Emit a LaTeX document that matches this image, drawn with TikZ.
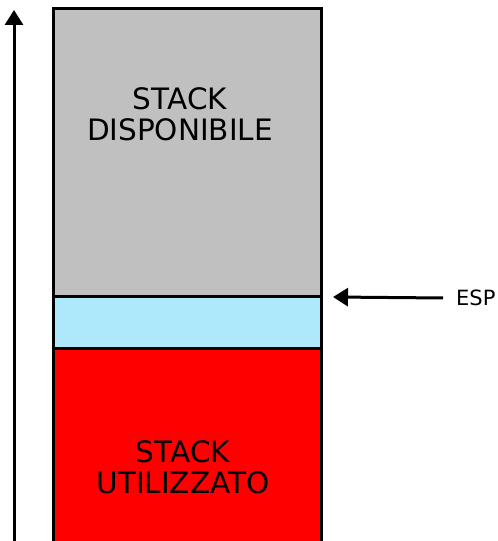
\documentclass[tikz,border=0pt]{standalone}
\usepackage{fontspec}
\setmainfont{DejaVu Sans}
\usepackage{tikz}
\usetikzlibrary{arrows.meta,positioning}
\definecolor{FreeGray}{RGB}{192, 192, 192}
\definecolor{TopBlue}{RGB}{174, 232, 251}
\definecolor{UsedRed}{RGB}{255, 0, 0}

\begin{document}
\begin{tikzpicture}[x=1pt, y=1pt,
  area/.style={draw=black, line width=3pt, minimum width=268pt, inner sep=0pt, outer sep=0pt},
  lbl/.style={align=center, font=\fontsize{29.5}{31}\selectfont, inner sep=0pt},
  ptr/.style={line width=3pt, -{Triangle[length=15pt, width=18pt]}}]
  \useasboundingbox (0,0) rectangle (498,541);
  \node[area, fill=FreeGray, minimum height=288pt] (free) at (187,388) {};
  \node[area, fill=TopBlue, minimum height=52pt, below=0pt of free] (top) {};
  \node[area, fill=UsedRed, minimum height=212pt, below=0pt of top] (used) {};
  \node[lbl] (freetxt) at (180,427) {STACK\\DISPONIBILE};
  \node[lbl] (usedtxt) at (183,74) {STACK\\UTILIZZATO};
  \node[anchor=west, inner sep=0pt, font=\fontsize{21}{24}\selectfont] (esp) at (456,243) {ESP};
  \coordinate (spat) at ([xshift=12pt]top.north east);
  \coordinate (base) at (14,-2);
  \coordinate (tip) at (14,531);
  \draw[ptr] ([xshift=-13pt]esp.west) -- (spat);
  \draw[ptr] (base) -- (tip);
\end{tikzpicture}
\end{document}
